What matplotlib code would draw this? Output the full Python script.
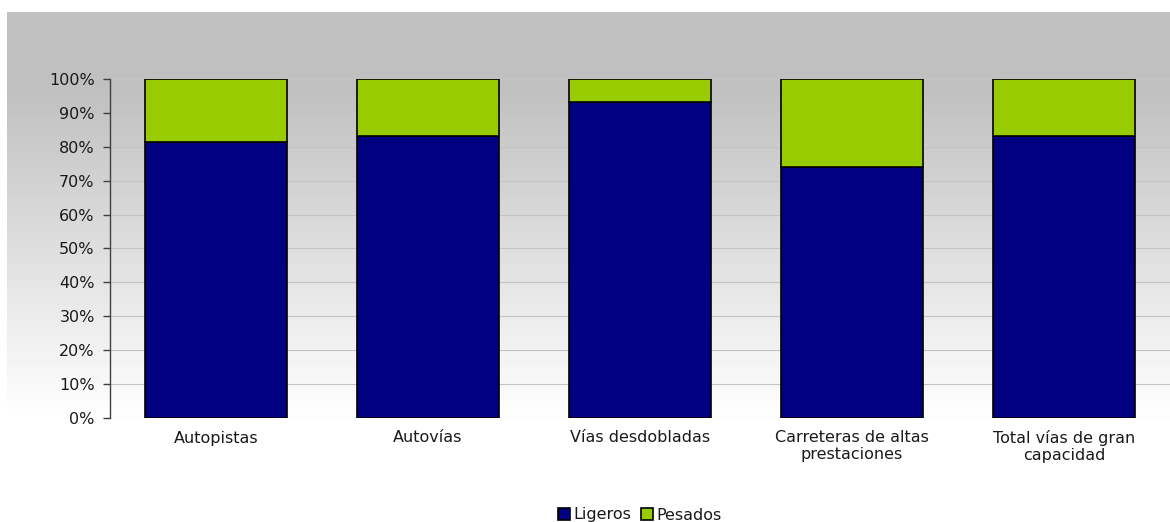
import matplotlib.pyplot as plt
import numpy as np
from matplotlib.ticker import PercentFormatter

categories = ["Autopistas", "Autovías", "Vías desdobladas",
              "Carreteras de altas\nprestaciones", "Total vías de gran\ncapacidad"]
ligeros = [81.4, 83.2, 93.3, 73.9, 83.2]
pesados = [100 - v for v in ligeros]

# the reference text is wide (stretched Arial); DejaVu Sans is the closest width
plt.rcParams["font.family"] = ["DejaVu Sans"]
FS = 11.5

W, H = 1170, 522
fig = plt.figure(figsize=(W / 100, H / 100), dpi=100)

# gradient background of the chart area (grey at top, white at bottom)
bg = fig.add_axes([7 / W, 0, 1 - 7 / W, (H - 12) / H], zorder=0)
rows = np.arange(12, H)
shade = np.clip(192 + (rows - 90) * (63 / 330), 192, 255) / 255
img = np.repeat(shade[:, None], 4, axis=1)
bg.imshow(img, cmap="gray", vmin=0, vmax=1, aspect="auto", interpolation="nearest")
bg.set_axis_off()

ax = fig.add_axes([110 / W, 104 / H, 1 - 110 / W, 339 / H], zorder=1)
ax.patch.set_alpha(0)

x = np.arange(len(categories))
width = 0.67
ax.bar(x, ligeros, width, color="#000080", edgecolor="black", linewidth=1.2, label="Ligeros", zorder=3)
ax.bar(x, pesados, width, bottom=ligeros, color="#99cc00", edgecolor="black", linewidth=1.2,
       label="Pesados", zorder=3)

ax.set_xlim(-0.5, len(categories) - 0.5)
ax.set_ylim(0, 100)
ax.set_yticks(np.arange(0, 101, 10))
ax.yaxis.set_major_formatter(PercentFormatter(decimals=0))
ax.set_xticks(x)
ax.set_xticklabels(categories, fontsize=FS, linespacing=1.15, color="#1a1a1a")
ax.tick_params(axis="x", length=0, pad=9)
ax.tick_params(axis="y", length=5, width=1, color="#404040", pad=6, labelsize=FS,
               labelcolor="#1a1a1a")
ax.grid(axis="y", color="#c4c4c4", linewidth=0.8, zorder=0)
ax.set_axisbelow(True)

for side in ["top", "right", "bottom"]:
    ax.spines[side].set_visible(False)
ax.spines["left"].set_color("#404040")
ax.spines["left"].set_linewidth(1.0)

handles, labels = ax.get_legend_handles_labels()
leg = fig.legend(handles, labels, loc="center", bbox_to_anchor=(640 / W, 1 - 515 / H), ncol=2,
                 frameon=False, fontsize=FS, handlelength=0.75, handleheight=0.75,
                 handletextpad=0.2, columnspacing=0.6, borderpad=0.1)
for t in leg.get_texts():
    t.set_color("#1a1a1a")

fig.savefig("out.png", dpi=100)
